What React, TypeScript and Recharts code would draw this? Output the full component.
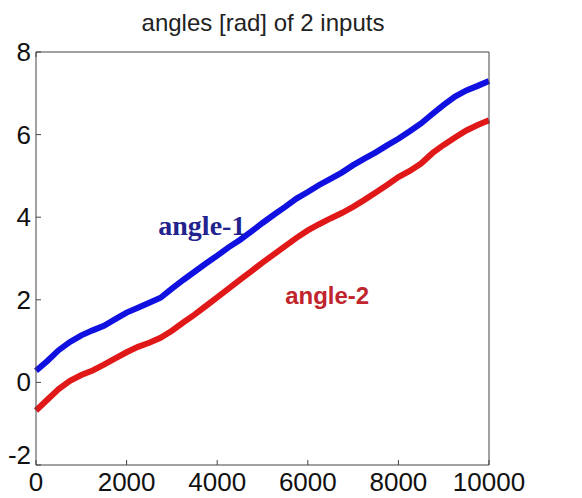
import React from "react";
import { LineChart, Line, XAxis, YAxis, ReferenceDot } from "recharts";

const title = "angles [rad] of 2 inputs";
const xTicks = [0, 2000, 4000, 6000, 8000, 10000];
const yTicks = [-2, 0, 2, 4, 6, 8];

const samples = [
  0, 250, 500, 750, 1000, 1250, 1500, 1750, 2000, 2250, 2500, 2750, 3000, 3250,
  3500, 3750, 4000, 4250, 4500, 4750, 5000, 5250, 5500, 5750, 6000, 6250, 6500,
  6750, 7000, 7250, 7500, 7750, 8000, 8250, 8500, 8750, 9000, 9250, 9500, 9750,
  10000,
];
const angle1 = [
  0.28, 0.52, 0.78, 0.98, 1.14, 1.26, 1.37, 1.53, 1.69, 1.81, 1.93, 2.05, 2.27,
  2.48, 2.68, 2.88, 3.07, 3.27, 3.45, 3.65, 3.86, 4.06, 4.25, 4.45, 4.61, 4.78,
  4.93, 5.08, 5.26, 5.42, 5.57, 5.74, 5.9, 6.08, 6.27, 6.5, 6.72, 6.92, 7.07,
  7.18, 7.3,
];
const angle2 = [
  -0.68, -0.42, -0.16, 0.04, 0.18, 0.29, 0.43, 0.58, 0.73, 0.86, 0.96, 1.08,
  1.25, 1.45, 1.64, 1.85, 2.06, 2.27, 2.48, 2.69, 2.9, 3.1, 3.3, 3.5, 3.68,
  3.83, 3.97, 4.1, 4.25, 4.42, 4.6, 4.78, 4.97, 5.12, 5.3, 5.55, 5.75, 5.93,
  6.1, 6.23, 6.35,
];
const label1 = { text: "angle-1", x: 2700, y: 3.57 };
const label2 = { text: "angle-2", x: 5500, y: 1.9 };

const data = samples.map((s, i) => ({ s, a1: angle1[i], a2: angle2[i] }));

const AXIS = "#444";
const FONT = "'Liberation Sans', Arial, sans-serif";

const BottomTick = (p: any) => (
  <g>
    <line x1={p.x} y1={p.y} x2={p.x} y2={p.y - 5} stroke={AXIS} />
    <text x={p.x} y={p.y + 26} textAnchor="middle" fontSize={26} fontFamily={FONT} fill="#111">
      {p.payload.value}
    </text>
  </g>
);
const LeftTick = (p: any) => (
  <g>
    <line x1={p.x} y1={p.y} x2={p.x + 5} y2={p.y} stroke={AXIS} />
    <text
      x={p.x - 5}
      y={p.y + 9 + (p.payload.value === -2 ? -10 : 0)}
      textAnchor="end"
      fontSize={26}
      fontFamily={FONT}
      fill="#111"
    >
      {p.payload.value}
    </text>
  </g>
);
const TopTick = (p: any) => (
  <line x1={p.x} y1={p.y} x2={p.x} y2={p.y + 5} stroke={AXIS} />
);
const RightTick = (p: any) => (
  <line x1={p.x} y1={p.y} x2={p.x - 5} y2={p.y} stroke={AXIS} />
);

const makeLabel = (text: string, color: string, family: string, size: number) => (props: any) => (
  <text x={props.cx} y={props.cy} fill={color} fontFamily={family} fontWeight="bold" fontSize={size}>
    {text}
  </text>
);

export default function App() {
  return (
    <div style={{ position: "relative", width: 566, height: 490 }}>
      <div
        style={{
          position: "absolute",
          left: 0,
          width: 510,
          top: 0,
          textAlign: "center",
          fontFamily: FONT,
          fontSize: 24,
          color: "#222",
          lineHeight: "30px",
        }}
      >
        {title}
      </div>
      <LineChart width={566} height={490} data={data} margin={{ top: 0, right: 0, bottom: 0, left: 0 }}>
        <XAxis
          dataKey="s"
          type="number"
          domain={[0, 10000]}
          ticks={xTicks}
          interval={0}
          height={33}
          tickSize={0}
          tickMargin={0}
          tickLine={false}
          axisLine={{ stroke: AXIS }}
          tick={BottomTick}
        />
        <XAxis
          xAxisId="top"
          orientation="top"
          type="number"
          domain={[0, 10000]}
          ticks={xTicks}
          interval={0}
          height={44}
          tickSize={0}
          tickMargin={0}
          tickLine={false}
          axisLine={{ stroke: AXIS }}
          tick={TopTick}
        />
        <YAxis
          type="number"
          domain={[-2, 8]}
          ticks={yTicks}
          interval={0}
          width={28}
          tickSize={0}
          tickMargin={0}
          tickLine={false}
          axisLine={{ stroke: AXIS }}
          tick={LeftTick}
        />
        <YAxis
          yAxisId="right"
          orientation="right"
          type="number"
          domain={[-2, 8]}
          ticks={yTicks}
          interval={0}
          width={85}
          tickSize={0}
          tickMargin={0}
          tickLine={false}
          axisLine={{ stroke: AXIS }}
          tick={RightTick}
        />
        <Line dataKey="a1" stroke="#1010e0" strokeWidth={6} dot={false} isAnimationActive={false} type="linear" />
        <Line dataKey="a2" stroke="#e01818" strokeWidth={6} dot={false} isAnimationActive={false} type="linear" />
        <ReferenceDot
          x={label1.x}
          y={label1.y}
          r={0}
          shape={makeLabel(label1.text, "#23238e", "'Liberation Serif', 'Times New Roman', serif", 28)}
        />
        <ReferenceDot
          x={label2.x}
          y={label2.y}
          r={0}
          shape={makeLabel(label2.text, "#c0242c", FONT, 24)}
        />
      </LineChart>
    </div>
  );
}
